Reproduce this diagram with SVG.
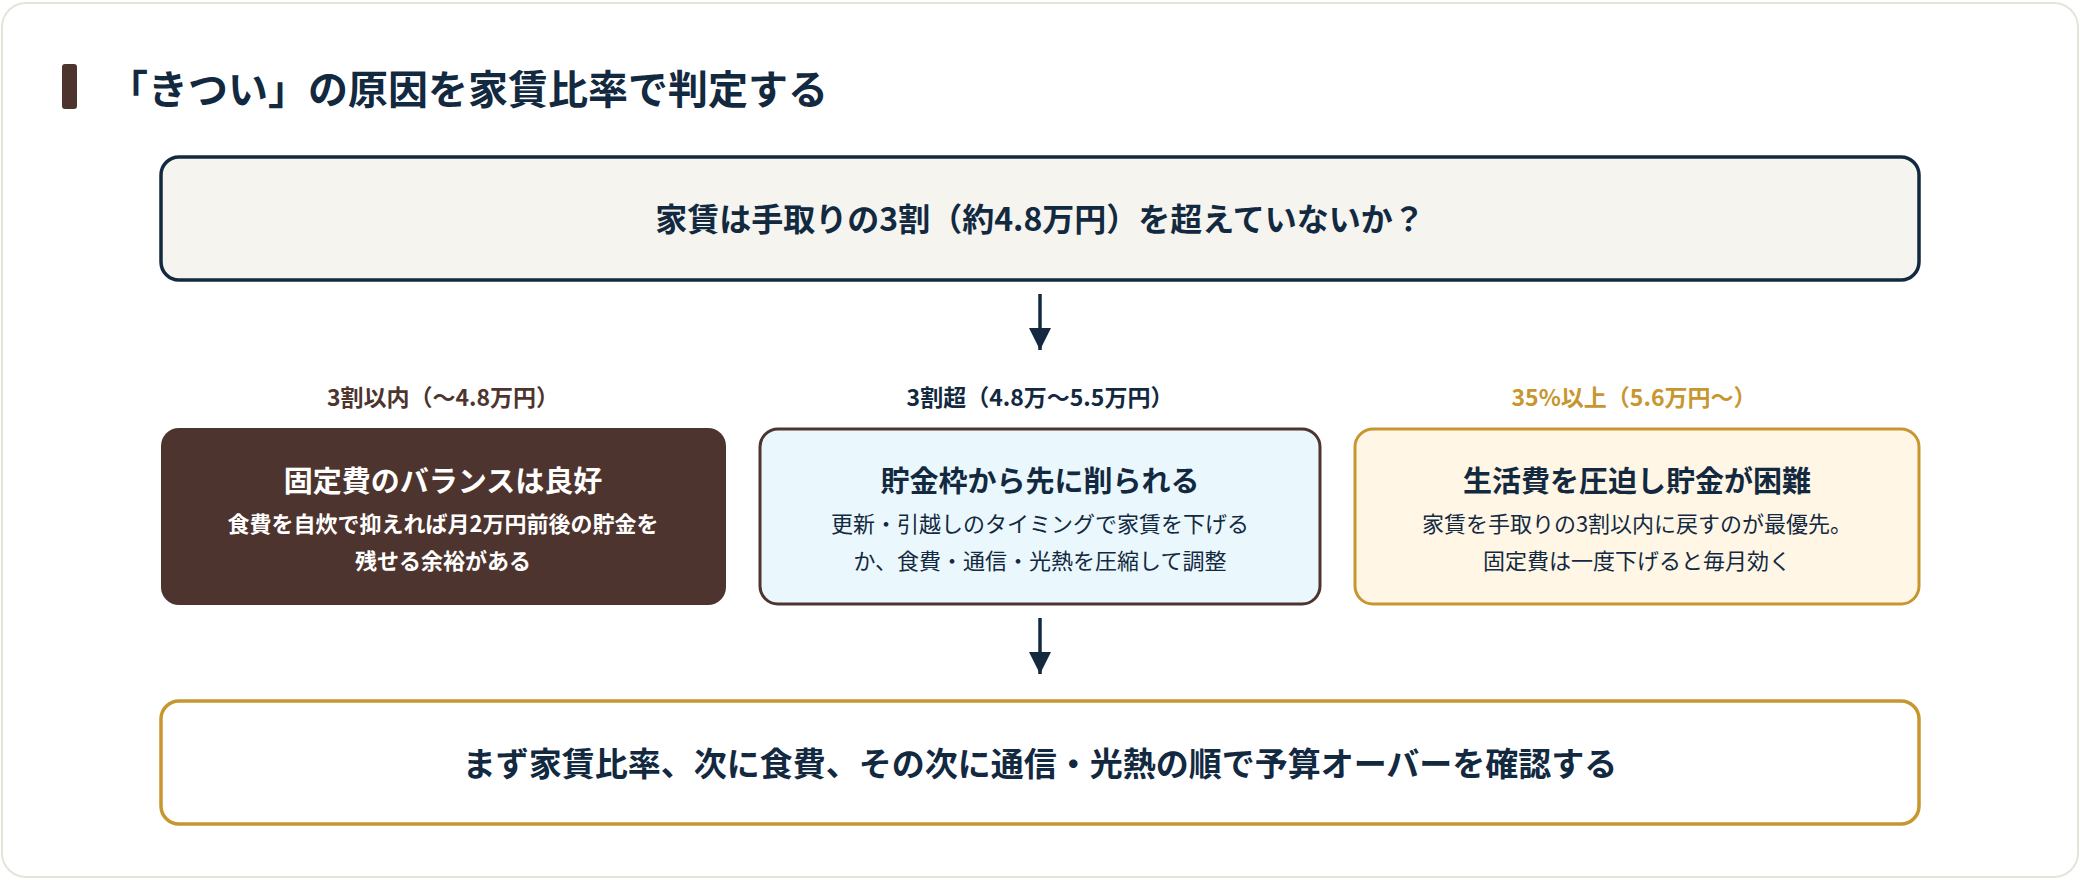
<svg xmlns="http://www.w3.org/2000/svg" width="2080" height="880" viewBox="0 0 2080 880">
<style>
text{font-family:"Noto Sans CJK JP","Noto Sans",sans-serif;text-anchor:middle}
.b{font-weight:700}
.navy{fill:#12293f}
.ln{stroke:#12293f;stroke-width:3.5;fill:none}
</style>
<defs><marker id="ah" viewBox="0 0 10 10" refX="9" refY="5" markerWidth="6" markerHeight="6" markerUnits="userSpaceOnUse" orient="auto"><path d="M0,0L10,5L0,10z" fill="#12293f"/></marker></defs>
<rect x="2" y="3" width="2076" height="874" rx="24" fill="#fff" stroke="#e6e4d8" stroke-width="2"/>
<g id="title">
<rect x="62" y="64" width="15" height="45" rx="3" fill="#4e342e"/>
<text x="108" y="104" class="b navy" font-size="40" style="text-anchor:start">「きつい」の原因を家賃比率で判定する</text>
</g>
<g id="q">
<rect x="161" y="157" width="1758" height="123" rx="18" fill="#f5f4ef" stroke="#12293f" stroke-width="3.5"/>
<text x="1040" y="231" class="b navy" font-size="32">家賃は手取りの3割（約4.8万円）を超えていないか？</text>
</g>
<g id="connectors">
<path d="M1040 294V350" class="ln"/>
<path d="M1029 328L1040 350L1051 328z" fill="#12293f"/>
<path d="M1040 618V674" class="ln"/>
<path d="M1029 652L1040 674L1051 652z" fill="#12293f"/>
</g>
<g id="a">
<text x="443" y="406" class="b" font-size="23" fill="#4e342e">3割以内（〜4.8万円）</text>
<rect x="161" y="428" width="565" height="177" rx="18" fill="#4e342e"/>
<text x="443" y="492" class="b" font-size="29" fill="#fff">固定費のバランスは良好</text>
<text x="443" y="532" font-size="22" fill="#fff" class="b">食費を自炊で抑えれば月2万円前後の貯金を</text>
<text x="443" y="569" font-size="22" fill="#fff" class="b">残せる余裕がある</text>
</g>
<g id="b">
<text x="1040" y="406" class="b navy" font-size="23">3割超（4.8万〜5.5万円）</text>
<rect x="760" y="429" width="560" height="175" rx="18" fill="#eaf7fc" stroke="#4e342e" stroke-width="3"/>
<text x="1040" y="492" class="b navy" font-size="29">貯金枠から先に削られる</text>
<text x="1040" y="532" font-size="22" class="navy">更新・引越しのタイミングで家賃を下げる</text>
<text x="1040" y="569" font-size="22" class="navy">か、食費・通信・光熱を圧縮して調整</text>
</g>
<g id="c">
<text x="1634" y="406" class="b" font-size="23" fill="#c8962f">35%以上（5.6万円〜）</text>
<rect x="1355" y="429" width="564" height="175" rx="18" fill="#fff6e6" stroke="#c8962f" stroke-width="3"/>
<text x="1637" y="492" class="b navy" font-size="29">生活費を圧迫し貯金が困難</text>
<text x="1637" y="532" font-size="22" class="navy">家賃を手取りの3割以内に戻すのが最優先。</text>
<text x="1637" y="569" font-size="22" class="navy">固定費は一度下げると毎月効く</text>
</g>
<g id="d">
<rect x="161" y="701" width="1758" height="123" rx="18" fill="#fff" stroke="#c8962f" stroke-width="3.5"/>
<text x="1040" y="776" class="b navy" font-size="33">まず家賃比率、次に食費、その次に通信・光熱の順で予算オーバーを確認する</text>
</g>
</svg>
